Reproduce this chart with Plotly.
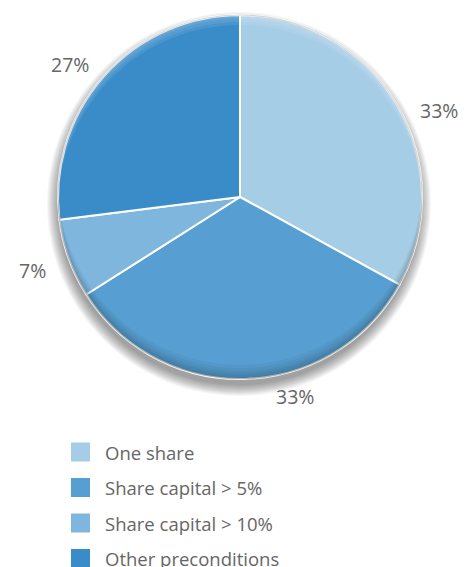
import math
import plotly.graph_objects as go

# Survey breakdown: preconditions for shareholder rights
categories = ["One share", "Share capital > 5%", "Share capital > 10%", "Other preconditions"]
shares = [33, 33, 7, 27]
colors = ["#a6cde6", "#579fd2", "#7fb6de", "#3a8cc9"]

W, H = 476, 567
cx, cy, r = 240, 197, 182  # pie centre and radius in pixels (from top-left)

# Percentage label anchor points (pixels)
label_pos = [(439, 110), (295, 396), (32, 270), (70, 65)]

# Legend layout (pixels)
leg_x, leg_y0, leg_dy, sq = 71, 452, 35.5, 19
text_color = "#666666"
font_family = "Open Sans, Lato, sans-serif"


def px(x):
    return x / W


def py(y):
    return 1 - y / H


def crescent(d, bottom=True, n=90):
    """Path of the part of the pie disc that lies outside the same disc
    shifted by d pixels (upwards for a bottom crescent, downwards for a top one)."""
    s = 1 if bottom else -1
    h = d / 2
    a0 = math.asin(h / r)  # intersection angle measured from horizontal
    pts = []
    # outer arc of the pie disc, through the bottom (or top)
    for k in range(n + 1):
        t = a0 + (math.pi - 2 * a0) * k / n
        x = cx + r * math.cos(t)
        y = cy + s * r * math.sin(t)
        pts.append((x, y))
    # inner arc of the shifted disc, back again
    for k in range(n + 1):
        t = math.pi - a0 - (math.pi - 2 * a0) * k / n
        x = cx + r * math.cos(t)
        y = cy - s * d + s * r * math.sin(t)
        pts.append((x, y))
    return "M " + " L ".join(f"{px(x):.5f},{py(y):.5f}" for x, y in pts) + " Z"


fig = go.Figure()
fig.add_trace(go.Pie(
    labels=categories,
    values=shares,
    sort=False,
    direction="clockwise",
    rotation=0,
    marker=dict(colors=colors, line=dict(color="white", width=2)),
    textinfo="none",
    hoverinfo="label+percent",
    showlegend=False,
    domain=dict(x=[px(cx - r), px(cx + r)], y=[py(cy + r), py(cy - r)]),
))

shapes = []
# Soft drop shadow beneath the pie
for i in range(12):
    rr = r + 10 - i * 1.0
    off = 7
    shapes.append(dict(
        type="circle", xref="paper", yref="paper", layer="below",
        x0=px(cx - rr - 1), x1=px(cx + rr - 1),
        y0=py(cy + off + rr), y1=py(cy + off - rr),
        fillcolor="rgba(0,0,0,0.035)", line=dict(width=0),
    ))

# Inner shading: darker towards the lower rim, lighter towards the upper rim
for d in (2, 4, 6, 8, 11, 14):
    shapes.append(dict(
        type="path", xref="paper", yref="paper", layer="above",
        path=crescent(d, bottom=True),
        fillcolor="rgba(20,30,40,0.05)", line=dict(width=0),
    ))
for d in (2, 4, 7, 10):
    shapes.append(dict(
        type="path", xref="paper", yref="paper", layer="above",
        path=crescent(d, bottom=False),
        fillcolor="rgba(255,255,255,0.08)", line=dict(width=0),
    ))

# Thin grey rim
shapes.append(dict(
    type="circle", xref="paper", yref="paper", layer="above",
    x0=px(cx - r), x1=px(cx + r), y0=py(cy + r), y1=py(cy - r),
    fillcolor="rgba(0,0,0,0)", line=dict(color="rgba(90,90,90,0.25)", width=1.2),
))

annotations = []
for v, (lx, ly) in zip(shares, label_pos):
    annotations.append(dict(
        text=f"{v}%", x=px(lx), y=py(ly), xref="paper", yref="paper",
        showarrow=False, xanchor="center", yanchor="middle",
        font=dict(family=font_family, size=19.5, color=text_color),
    ))

# Legend drawn as square swatches with labels
for i, (name, col) in enumerate(zip(categories, colors)):
    yc = leg_y0 + i * leg_dy
    shapes.append(dict(
        type="rect", xref="paper", yref="paper", layer="above",
        x0=px(leg_x), x1=px(leg_x + sq), y0=py(yc + sq / 2), y1=py(yc - sq / 2),
        fillcolor=col, line=dict(width=0),
    ))
    annotations.append(dict(
        text=name, x=px(leg_x + 32), y=py(yc), xref="paper", yref="paper",
        showarrow=False, xanchor="left", yanchor="middle",
        font=dict(family=font_family, size=18.5, color=text_color),
    ))

fig.update_layout(
    width=W, height=H,
    margin=dict(l=0, r=0, t=0, b=0),
    paper_bgcolor="white", plot_bgcolor="white",
    shapes=shapes, annotations=annotations,
    showlegend=False,
)

fig.write_html("out.html")
